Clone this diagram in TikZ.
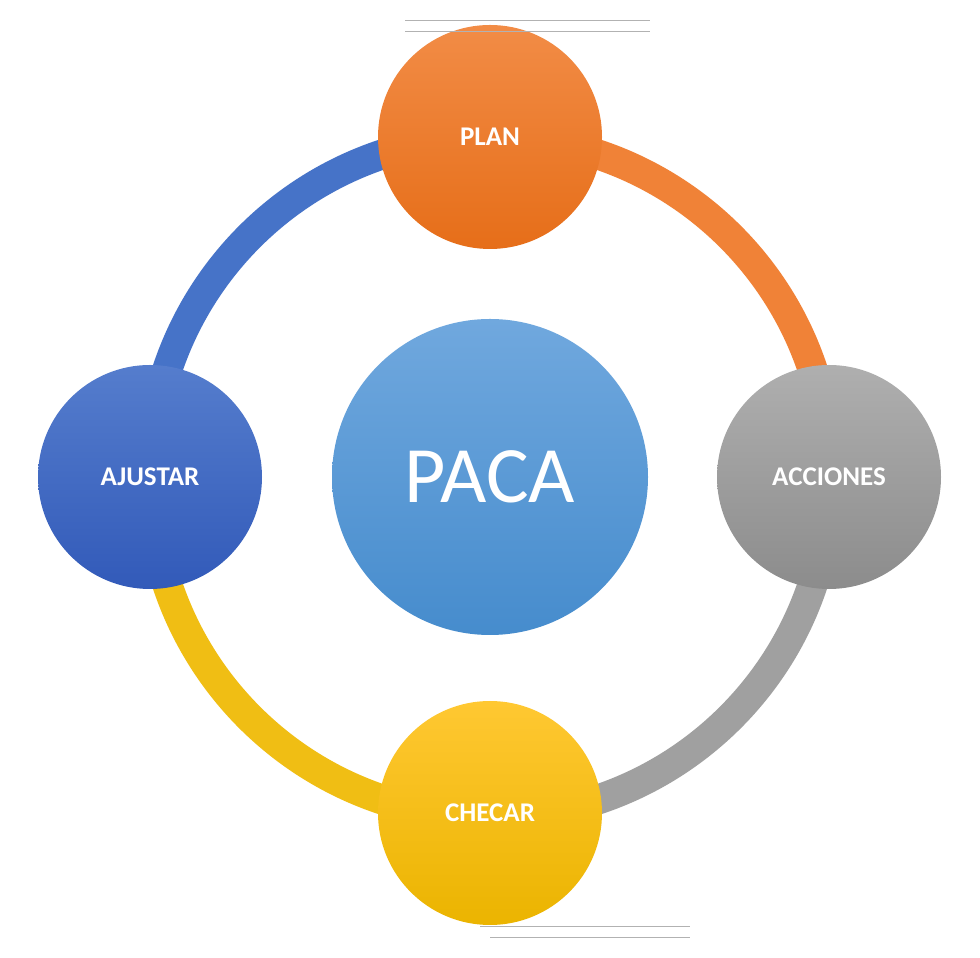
\documentclass[tikz,border=0pt]{standalone}
\usepackage{fontspec}
\setmainfont{Carlito}
\begin{document}
\begin{tikzpicture}[x=1pt,y=1pt,
  sat/.style={circle,minimum size=224pt,inner sep=0pt,text=white,font=\bfseries\fontsize{27}{30}\selectfont},
  ring/.style={line width=30pt}]
\useasboundingbox (0,0) rectangle (980,958);
\fill[white] (0,0) rectangle (980,958);
\coordinate (c) at (490,481);
\draw[ring,color={rgb,255:red,240;green,130;blue,55}] (490,821) arc (90:0:340);
\draw[ring,color={rgb,255:red,160;green,160;blue,160}] (830,481) arc (0:-90:340);
\draw[ring,color={rgb,255:red,240;green,190;blue,20}] (490,141) arc (-90:-180:340);
\draw[ring,color={rgb,255:red,70;green,115;blue,200}] (150,481) arc (180:90:340);
\node[circle,minimum size=316pt,inner sep=0pt,text=white,font=\fontsize{80}{90}\selectfont,
  top color={rgb,255:red,112;green,168;blue,222},bottom color={rgb,255:red,70;green,140;blue,205}] (paca) at (c) {PACA};
\node[sat,top color={rgb,255:red,242;green,140;blue,70},bottom color={rgb,255:red,230;green,110;blue,25}] (plan) at (490,821) {PLAN};
\node[sat,top color={rgb,255:red,175;green,175;blue,175},bottom color={rgb,255:red,140;green,140;blue,140}] (acc) at (829,481) {ACCIONES};
\node[sat,top color={rgb,255:red,255;green,200;blue,50},bottom color={rgb,255:red,235;green,180;blue,0}] (chk) at (490,145) {CHECAR};
\node[sat,top color={rgb,255:red,85;green,125;blue,205},bottom color={rgb,255:red,50;green,90;blue,185}] (aj) at (150,481) {AJUSTAR};
\draw[gray!60,line width=1pt] (405,937) -- (650,937);
\draw[gray!60,line width=1pt] (405,926) -- (650,926);
\draw[gray!60,line width=1pt] (490,20) -- (690,20);
\draw[gray!60,line width=1pt] (480,31) -- (690,31);
\end{tikzpicture}
\end{document}
